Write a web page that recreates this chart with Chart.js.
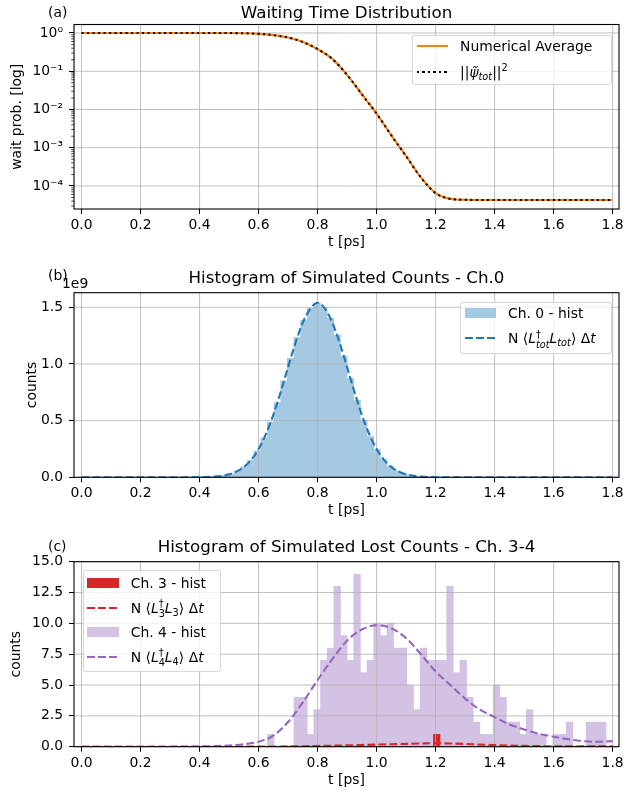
<!DOCTYPE html>
<html>
<head>
<meta charset="utf-8">
<title>Waiting time distribution and simulated counts</title>
<script src="https://cdn.jsdelivr.net/npm/chart.js@4.4.1/dist/chart.umd.min.js"></script>
<style>
  body { margin: 0; background: #fff; }
  #fig { position: relative; width: 628px; height: 798px; overflow: hidden; font-family: 'DejaVu Sans', sans-serif; color: #000; }
  #fig canvas { position: absolute; left: 0; }
  .legend { position: absolute; box-sizing: border-box; background: rgba(255,255,255,0.8); border: 1px solid rgba(204,204,204,0.8); border-radius: 3px; }
  .legend .row { position: absolute; left: 0; right: 0; height: 20px; font-size: 13.9px; line-height: 20px; white-space: nowrap; }
  .legend .sw { position: absolute; left: 3.7px; width: 31.5px; top: 50%; }
  .legend .lbl { position: absolute; left: 47px; top: 0; }
  .patch { height: 9.7px; margin-top: -4.85px; }
  .solid { height: 2.1px; margin-top: -1.05px; }
  .dot { height: 2.1px; margin-top: -1.05px; background: repeating-linear-gradient(90deg, #000 0 2.1px, transparent 2.1px 5.5px); }
  .dash { height: 2.1px; margin-top: -1.05px; }
  .sub { font-size: 0.7em; vertical-align: -0.35em; line-height: 0; }
  .sup { font-size: 0.7em; vertical-align: 0.6em; line-height: 0; }
  .ss { display: inline-block; font-size: 0.7em; line-height: 1; vertical-align: -0.45em; }
  .ss span { display: block; }
</style>
</head>
<body>
<div id="fig">
  <canvas id="waitChart" width="628" height="258" style="top:0px"></canvas>
  <canvas id="ch0Chart" width="628" height="268" style="top:258px"></canvas>
  <canvas id="lostChart" width="628" height="272" style="top:526px"></canvas>

  <div class="legend" style="left:412px;top:35px;width:200px;height:50px">
    <div class="row" style="top:0px"><div class="sw solid" style="background:#ff7f0e"></div><span class="lbl">Numerical Average</span></div>
    <div class="row" style="top:25.7px"><div class="sw dot"></div><span class="lbl">||<i>ψ̃</i><span class="sub"><i>tot</i></span>||<span class="sup">2</span></span></div>
  </div>

  <div class="legend" style="left:460px;top:301.7px;width:152px;height:52px">
    <div class="row" style="top:0.6px"><div class="sw patch" style="background:#a5c9e1"></div><span class="lbl">Ch. 0 - hist</span></div>
    <div class="row" style="top:25.6px"><div class="sw dash" style="background:repeating-linear-gradient(90deg,#1f77b4 0 7.7px,transparent 7.7px 11px)"></div><span class="lbl">N ⟨<i>L</i><span class="ss"><span>†</span><span><i>tot</i></span></span><i>L</i><span class="sub"><i>tot</i></span>⟩ Δ<i>t</i></span></div>
  </div>

  <div class="legend" style="left:82.7px;top:570px;width:138.3px;height:101.7px">
    <div class="row" style="top:1.7px"><div class="sw patch" style="background:#d62728"></div><span class="lbl">Ch. 3 - hist</span></div>
    <div class="row" style="top:26.7px"><div class="sw dash" style="background:repeating-linear-gradient(90deg,#d62728 0 7.7px,transparent 7.7px 11px)"></div><span class="lbl">N ⟨<i>L</i><span class="ss"><span>†</span><span>3</span></span><i>L</i><span class="sub">3</span>⟩ Δ<i>t</i></span></div>
    <div class="row" style="top:50.7px"><div class="sw patch" style="background:#d4c2e5"></div><span class="lbl">Ch. 4 - hist</span></div>
    <div class="row" style="top:75.7px"><div class="sw dash" style="background:repeating-linear-gradient(90deg,#9467bd 0 7.7px,transparent 7.7px 11px)"></div><span class="lbl">N ⟨<i>L</i><span class="ss"><span>†</span><span>4</span></span><i>L</i><span class="sub">4</span>⟩ Δ<i>t</i></span></div>
  </div>
</div>

<script>
// shared time axis
const tTicks = [0, 0.2, 0.4, 0.6, 0.8, 1.0, 1.2, 1.4, 1.6, 1.8];
const tTickLabels = ['0.0', '0.2', '0.4', '0.6', '0.8', '1.0', '1.2', '1.4', '1.6', '1.8'];

// time grid of the smooth curves (ps)
const curveT = [0, 0.05, 0.1, 0.15, 0.2, 0.25, 0.3, 0.35, 0.4, 0.45, 0.5, 0.55, 0.6, 0.65, 0.7, 0.75, 0.8, 0.85, 0.9, 0.95,
  1.0, 1.05, 1.1, 1.15, 1.2, 1.25, 1.3, 1.35, 1.4, 1.45, 1.5, 1.55, 1.6, 1.65, 1.7, 1.75, 1.8];

// (a) probability of no click yet
const waitAverage = [1, 1, 1, 1, 1, 1, 1, 1, 1, 0.999, 0.996, 0.985, 0.95, 0.88, 0.76, 0.58, 0.38, 0.21, 0.08, 0.025,
  0.0078, 0.0021, 6.0e-4, 1.67e-4, 6.5e-5, 4.6e-5, 4.35e-5, 4.3e-5, 4.3e-5, 4.3e-5, 4.3e-5, 4.3e-5, 4.3e-5, 4.3e-5, 4.3e-5, 4.3e-5, 4.3e-5];
const waitNorm = [1, 1, 1, 1, 1, 1, 1, 1, 1, 0.999, 0.996, 0.985, 0.95, 0.88, 0.76, 0.58, 0.38, 0.21, 0.08, 0.025,
  0.0078, 0.0021, 6.0e-4, 1.67e-4, 6.5e-5, 4.6e-5, 4.35e-5, 4.3e-5, 4.3e-5, 4.3e-5, 4.3e-5, 4.3e-5, 4.3e-5, 4.3e-5, 4.3e-5, 4.3e-5, 4.3e-5];
const waitTicks = [1e-4, 1e-3, 1e-2, 1e-1, 1];
const waitTickLabels = ['10⁻⁴', '10⁻³', '10⁻²', '10⁻¹', '10⁰'];

// histogram bins: 80 bins of 0.0225 ps from 0 to 1.8
const binWidth = 0.0225;

// (b) channel 0 counts, in units of 1e9
const ch0Hist = [
  0, 0, 0, 0, 0, 0, 0, 0, 0, 0,
  0, 0, 0, 0, 0, 0, 0, 0.0008, 0.0019, 0.0041,
  0.0084, 0.0164, 0.0306, 0.0544, 0.0924, 0.150, 0.233, 0.345, 0.488, 0.659,
  0.851, 1.049, 1.235, 1.388, 1.491, 1.535, 1.499, 1.403, 1.254, 1.070,
  0.873, 0.680, 0.506, 0.359, 0.244, 0.158, 0.098, 0.058, 0.0327, 0.0176,
  0.0091, 0.0045, 0.0021, 0.0009, 0, 0, 0, 0, 0, 0,
  0, 0, 0, 0, 0, 0, 0, 0, 0, 0,
  0, 0, 0, 0, 0, 0, 0, 0, 0, 0
];
const ch0CurveT = [0, 0.1, 0.2, 0.3, 0.35, 0.4, 0.425, 0.45, 0.475, 0.5, 0.525, 0.55, 0.575, 0.6, 0.625, 0.65, 0.675, 0.7,
  0.725, 0.75, 0.775, 0.8, 0.825, 0.85, 0.875, 0.9, 0.925, 0.95, 0.975, 1.0, 1.025, 1.05, 1.075, 1.1, 1.125, 1.15,
  1.175, 1.2, 1.25, 1.3, 1.4, 1.5, 1.6, 1.7, 1.8];
const ch0Curve = [0, 0, 0, 0, 0.0003, 0.0011, 0.0026, 0.0059, 0.0127, 0.0258, 0.0496, 0.090, 0.154, 0.249, 0.382, 0.551, 0.753, 0.972,
  1.185, 1.366, 1.487, 1.54, 1.487, 1.366, 1.185, 0.972, 0.753, 0.551, 0.382, 0.249, 0.154, 0.090, 0.0496, 0.0258, 0.0127, 0.0059,
  0.0026, 0.0011, 0.0003, 0, 0, 0, 0, 0, 0];
const ch0Ticks = [0, 0.5, 1.0, 1.5];
const ch0TickLabels = ['0.0', '0.5', '1.0', '1.5'];

// (c) lost counts, channels 3 and 4
const ch3Hist = [
  0, 0, 0, 0, 0, 0, 0, 0, 0, 0,
  0, 0, 0, 0, 0, 0, 0, 0, 0, 0,
  0, 0, 0, 0, 0, 0, 0, 0, 0, 0,
  0, 0, 0, 0, 0, 0, 0, 0, 0, 0,
  0, 0, 0, 0, 0, 0, 0, 0, 0, 0,
  0, 0, 0, 1, 0, 0, 0, 0, 0, 0,
  0, 0, 0, 0, 0, 0, 0, 0, 0, 0,
  0, 0, 0, 0, 0, 0, 0, 0, 0, 0
];
const ch4Hist = [
  0, 0, 0, 0, 0, 0, 0, 0, 0, 0,
  0, 0, 0, 0, 0, 0, 0, 0, 0, 0,
  0, 0, 0, 0, 0, 0, 0, 0, 1, 0,
  0, 0, 4, 4, 1, 3, 7, 8, 13, 9,
  7, 14, 6, 7, 10, 9, 10, 8, 8, 5,
  3, 8, 7, 7, 7, 13, 6, 7, 4, 2,
  1, 1, 5, 4, 2, 2, 1, 3, 1, 1,
  0, 1, 1, 2, 0, 0, 2, 2, 2, 0
];
const ch3Curve = [0, 0, 0, 0, 0, 0, 0, 0, 0, 0, 0, 0.003, 0.008, 0.015, 0.025, 0.04, 0.06, 0.085, 0.11, 0.14,
  0.17, 0.2, 0.23, 0.26, 0.28, 0.26, 0.22, 0.17, 0.13, 0.09, 0.065, 0.045, 0.035, 0.03, 0.025, 0.025, 0.03];
const ch4Curve = [0, 0, 0, 0, 0, 0, 0, 0.01, 0.02, 0.05, 0.1, 0.2, 0.4, 0.9, 2.0, 3.6, 5.4, 7.1, 8.6, 9.5,
  9.85, 9.6, 8.8, 7.5, 6.1, 5.0, 3.9, 3.0, 2.4, 1.8, 1.4, 1.05, 0.8, 0.6, 0.45, 0.4, 0.45];
const lostTicks = [0, 2.5, 5, 7.5, 10, 12.5, 15];
const lostTickLabels = ['0.0', '2.5', '5.0', '7.5', '10.0', '12.5', '15.0'];

const binCenters = ch4Hist.map((_, i) => (i + 0.5) * binWidth);
const pts = (xs, ys) => xs.map((x, i) => ({ x: x, y: ys[i] }));

const tickFont = { family: 'DejaVu Sans', size: 13.9 };
const gridOpts = { drawOnChartArea: false, tickColor: '#000', tickLength: 5, tickWidth: 1, offset: false };

// grid goes over the histogram patches but under the curves
const gridAbove = {
  id: 'gridAbove',
  beforeDatasetsDraw(chart) { chart.$gridDone = false; },
  beforeDatasetDraw(chart, args) {
    if (chart.$gridDone || args.meta.type !== 'line') return;
    chart.$gridDone = true;
    const { ctx, chartArea: a, scales: { x, y } } = chart;
    ctx.save();
    ctx.strokeStyle = '#b0b0b0';
    ctx.lineWidth = 0.8;
    ctx.beginPath();
    x.ticks.forEach(t => { const px = x.getPixelForValue(t.value); ctx.moveTo(px, a.top); ctx.lineTo(px, a.bottom); });
    y.ticks.forEach(t => { const py = y.getPixelForValue(t.value); ctx.moveTo(a.left, py); ctx.lineTo(a.right, py); });
    ctx.stroke();
    ctx.restore();
  }
};

const frame = {
  id: 'frame',
  afterDatasetsDraw(chart) {
    const { ctx, chartArea: a } = chart;
    ctx.save();
    ctx.strokeStyle = '#000';
    ctx.lineWidth = 1.1;
    ctx.strokeRect(a.left, a.top, a.right - a.left, a.bottom - a.top);
    ctx.restore();
  }
};

// small unlabeled ticks between the decades of the log axis
const minorLogTicks = {
  id: 'minorLogTicks',
  afterDraw(chart) {
    const { ctx, scales: { y } } = chart;
    ctx.save();
    ctx.strokeStyle = '#000';
    ctx.lineWidth = 0.7;
    ctx.beginPath();
    for (let e = -5; e <= 0; e++) {
      for (let m = 2; m <= 9; m++) {
        const v = m * Math.pow(10, e);
        if (v < y.min || v > y.max) continue;
        const py = y.getPixelForValue(v);
        ctx.moveTo(y.right - 2.8, py);
        ctx.lineTo(y.right, py);
      }
    }
    ctx.stroke();
    ctx.restore();
  }
};

// titles and panel letters
function textLayer(items) {
  return {
    id: 'textLayer',
    afterDraw(chart) {
      const ctx = chart.ctx;
      ctx.save();
      ctx.fillStyle = '#000';
      ctx.textBaseline = 'alphabetic';
      items.forEach(it => {
        ctx.font = it.size + 'px "DejaVu Sans"';
        ctx.textAlign = it.align || 'left';
        ctx.fillText(it.text, it.x, it.y);
      });
      ctx.restore();
    }
  };
}

function timeAxis(height, titlePad) {
  return {
    type: 'linear', min: -0.0255, max: 1.8215, bounds: 'data', offset: false,
    afterBuildTicks: s => { s.ticks = tTicks.map(v => ({ value: v })); },
    afterFit: s => { s.height = height; },
    ticks: { callback: (v, i) => tTickLabels[i], font: tickFont, color: '#000', padding: 3, maxRotation: 0, autoSkip: false },
    grid: gridOpts,
    border: { display: false },
    title: { display: true, text: 't [ps]', font: tickFont, color: '#000', padding: { top: 0, bottom: titlePad } }
  };
}

function valueAxis(o) {
  return {
    type: o.type, min: o.min, max: o.max, bounds: 'data',
    afterBuildTicks: s => { s.ticks = o.ticks.map(v => ({ value: v })); },
    afterFit: s => { s.width = 74; },
    ticks: { callback: (v, i) => o.labels[i], font: tickFont, color: '#000', padding: 6, autoSkip: false },
    grid: gridOpts,
    border: { display: false },
    title: { display: true, text: o.title, font: tickFont, color: '#000', padding: { top: o.titlePad, bottom: 0 } }
  };
}

function baseOptions(padTop, x, y) {
  return {
    responsive: false,
    animation: false,
    devicePixelRatio: 1,
    layout: { padding: { top: padTop, right: 9, bottom: 0, left: 0 } },
    plugins: { legend: { display: false }, tooltip: { enabled: false } },
    elements: { point: { radius: 0 } },
    scales: { x: x, y: y }
  };
}

const histBar = { borderWidth: 0, barPercentage: 1, categoryPercentage: 1, grouped: false };
const dashedLine = { borderWidth: 2.1, borderDash: [7.7, 3.3], cubicInterpolationMode: 'monotone' };

new Chart(document.getElementById('waitChart'), {
  type: 'line',
  data: {
    datasets: [{
      label: '||ψ̃tot||²',
      data: pts(curveT, waitNorm),
      borderColor: '#000',
      borderWidth: 2.1,
      borderDash: [2.1, 3.4],
      cubicInterpolationMode: 'monotone',
      order: 1
    }, {
      label: 'Numerical Average',
      data: pts(curveT, waitAverage),
      borderColor: '#ff7f0e',
      borderWidth: 2.1,
      cubicInterpolationMode: 'monotone',
      order: 2
    }]
  },
  options: baseOptions(24.5,
    timeAxis(49, 7.4),
    valueAxis({ type: 'logarithmic', min: 2.5e-5, max: 1.667, ticks: waitTicks, labels: waitTickLabels, title: 'wait prob. [log]', titlePad: 8.7 })),
  plugins: [gridAbove, frame, minorLogTicks, textLayer([
    { text: 'Waiting Time Distribution', x: 346.5, y: 17.5, size: 16.7, align: 'center' },
    { text: '(a)', x: 48, y: 17, size: 13.9 }
  ])]
});

new Chart(document.getElementById('ch0Chart'), {
  type: 'bar',
  data: {
    datasets: [Object.assign({
      type: 'line',
      label: 'N ⟨L†tot Ltot⟩ Δt',
      data: pts(ch0CurveT, ch0Curve),
      borderColor: '#1f77b4',
      order: 1
    }, dashedLine), Object.assign({
      type: 'bar',
      label: 'Ch. 0 - hist',
      data: pts(binCenters, ch0Hist),
      backgroundColor: '#a5c9e1',
      order: 2
    }, histBar)]
  },
  options: baseOptions(34.7,
    timeAxis(48.7, 7.1),
    valueAxis({ type: 'linear', min: 0, max: 1.629, ticks: ch0Ticks, labels: ch0TickLabels, title: 'counts', titlePad: 23.7 })),
  plugins: [gridAbove, frame, textLayer([
    { text: 'Histogram of Simulated Counts - Ch.0', x: 346.5, y: 24.5, size: 16.7, align: 'center' },
    { text: '(b)', x: 48, y: 21.5, size: 13.9 },
    { text: '1e9', x: 62, y: 30, size: 13.9 }
  ])]
});

new Chart(document.getElementById('lostChart'), {
  type: 'bar',
  data: {
    datasets: [Object.assign({
      type: 'line',
      label: 'N ⟨L†4 L4⟩ Δt',
      data: pts(curveT, ch4Curve),
      borderColor: '#9467bd',
      order: 1
    }, dashedLine), Object.assign({
      type: 'line',
      label: 'N ⟨L†3 L3⟩ Δt',
      data: pts(curveT, ch3Curve),
      borderColor: '#d62728',
      order: 2
    }, dashedLine), Object.assign({
      type: 'bar',
      label: 'Ch. 3 - hist',
      data: pts(binCenters, ch3Hist),
      backgroundColor: '#d62728',
      order: 3
    }, histBar), Object.assign({
      type: 'bar',
      label: 'Ch. 4 - hist',
      data: pts(binCenters, ch4Hist),
      backgroundColor: '#d4c2e5',
      order: 4
    }, histBar)]
  },
  options: baseOptions(35.7,
    timeAxis(51.3, 9.2),
    valueAxis({ type: 'linear', min: 0, max: 15, ticks: lostTicks, labels: lostTickLabels, title: 'counts', titlePad: 8.4 })),
  plugins: [gridAbove, frame, textLayer([
    { text: 'Histogram of Simulated Lost Counts - Ch. 3-4', x: 346.5, y: 26, size: 16.7, align: 'center' },
    { text: '(c)', x: 48, y: 25, size: 13.9 }
  ])]
});
</script>
</body>
</html>
